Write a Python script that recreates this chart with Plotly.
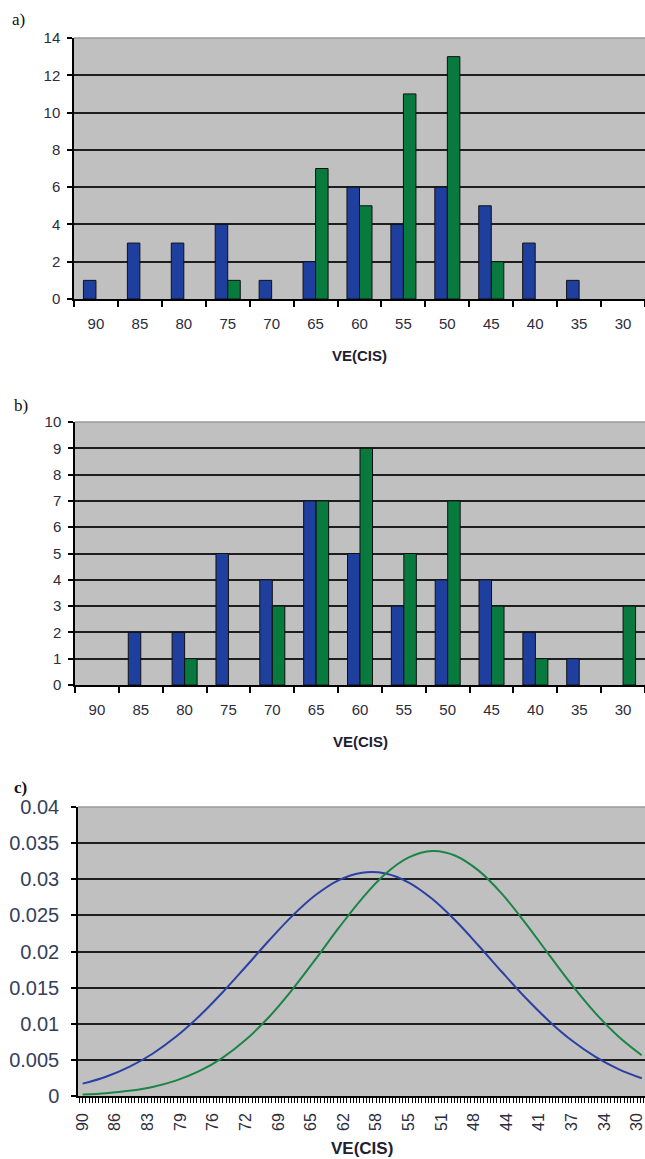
import plotly.graph_objects as go

# ---------- data ----------
categories = ["90", "85", "80", "75", "70", "65", "60", "55", "50", "45", "40", "35", "30"]

a_blue = [1, 3, 3, 4, 1, 2, 6, 4, 6, 5, 3, 1, 0]
a_green = [0, 0, 0, 1, 0, 7, 5, 11, 13, 2, 0, 0, 0]

b_blue = [0, 2, 2, 5, 4, 7, 5, 3, 4, 4, 2, 1, 0]
b_green = [0, 0, 1, 0, 3, 7, 9, 5, 7, 3, 1, 0, 3]

c_x = [90, 87.5, 85, 82.5, 80, 77.5, 75, 72.5, 70, 67.5, 65, 62.5, 60,
       57.5, 55, 52.5, 50, 47.5, 45, 42.5, 40, 37.5, 35, 32.5, 30]
c_blue = [0.00171, 0.00267, 0.00403, 0.00585, 0.00819, 0.01103, 0.01432, 0.01789,
          0.02152, 0.02493, 0.02781, 0.02988, 0.03091, 0.03079, 0.02954, 0.02729,
          0.02428, 0.02080, 0.01716, 0.01363, 0.01043, 0.00768, 0.00545, 0.00372, 0.00245]
c_green = [0.00020, 0.00039, 0.00072, 0.00126, 0.00213, 0.00343, 0.00528, 0.00778,
           0.01094, 0.01473, 0.01894, 0.02329, 0.02736, 0.03075, 0.03302, 0.03390,
           0.03326, 0.03119, 0.02797, 0.02397, 0.01964, 0.01538, 0.01151, 0.00824, 0.00563]

c_tickvals = [90, 86.5, 83, 79.5, 76, 72.5, 69, 65.5, 62, 58.5, 55, 51.5, 48, 44.5, 41, 37.5, 34, 30.5]
c_ticktext = ["90", "86", "83", "79", "76", "72", "69", "65", "62", "58", "55", "51",
              "48", "44", "41", "37", "34", "30"]

c_ytickvals = [0, 0.005, 0.01, 0.015, 0.02, 0.025, 0.03, 0.035, 0.04]
c_yticktext = ["0", "0.005", "0.01", "0.015", "0.02", "0.025", "0.03", "0.035", "0.04"]

# ---------- style ----------
W, H = 645, 1159
BLUE = "#1f3f9e"
GREEN = "#087a3e"
BG = "#c0c0c0"
GRID = "#1e1e1e"
TXT = "#2c2c3c"
FONT = "Liberation Sans, Arial, sans-serif"

def py(px):
    return 1 - px / H

def outline(vals):
    return dict(color="#101010", width=[1 if v > 0 else 0 for v in vals])

fig = go.Figure()

fig.add_trace(go.Bar(x=categories, y=a_blue, marker=dict(color=BLUE, line=outline(a_blue)),
                     xaxis="x", yaxis="y", showlegend=False))
fig.add_trace(go.Bar(x=categories, y=a_green, marker=dict(color=GREEN, line=outline(a_green)),
                     xaxis="x", yaxis="y", showlegend=False))
fig.add_trace(go.Bar(x=categories, y=b_blue, marker=dict(color=BLUE, line=outline(b_blue)),
                     xaxis="x2", yaxis="y2", showlegend=False))
fig.add_trace(go.Bar(x=categories, y=b_green, marker=dict(color=GREEN, line=outline(b_green)),
                     xaxis="x2", yaxis="y2", showlegend=False))
fig.add_trace(go.Scatter(x=c_x, y=c_blue, mode="lines", line=dict(color="#2b40a3", width=2, shape="spline"),
                         xaxis="x3", yaxis="y3", showlegend=False))
fig.add_trace(go.Scatter(x=c_x, y=c_green, mode="lines", line=dict(color="#1b8446", width=2, shape="spline"),
                         xaxis="x3", yaxis="y3", showlegend=False))

common_y = dict(showline=True, linecolor="#000000", linewidth=1.5, ticks="outside", ticklen=5,
                tickcolor="#000000", tickwidth=1.5, showgrid=True, gridcolor=GRID, gridwidth=1.5,
                zeroline=False, automargin=False)
common_xcat = dict(type="category", showline=True, linecolor="#000000", linewidth=1.5,
                   ticks="outside", ticklen=6, tickcolor="#000000", tickwidth=1.5,
                   tickson="boundaries", showgrid=False, zeroline=False, automargin=False,
                   ticklabeloverflow="allow",
                   tickfont=dict(family=FONT, size=15, color=TXT), ticklabelstandoff=10)

fig.update_layout(
    width=W, height=H,
    margin=dict(l=0, r=0, t=0, b=0, autoexpand=False),
    paper_bgcolor="white",
    plot_bgcolor=BG,
    barmode="group", bargap=0.43, bargroupgap=0,
    xaxis=dict(domain=[74 / W, 1], anchor="y", **common_xcat),
    yaxis=dict(domain=[py(299), py(38)], anchor="x", range=[0, 14], dtick=2, ticklabelstandoff=4,
               tickfont=dict(family=FONT, size=15, color=TXT), **common_y),
    xaxis2=dict(domain=[75 / W, 1], anchor="y2", **common_xcat),
    yaxis2=dict(domain=[py(685), py(422)], anchor="x2", range=[0, 10], dtick=1, ticklabelstandoff=4,
                tickfont=dict(family=FONT, size=15, color=TXT), **common_y),
    xaxis3=dict(domain=[78 / W, 1], anchor="y3", range=[90.5, 29.65], automargin=False,
                tickmode="array", tickvals=c_tickvals, ticktext=c_ticktext, tickangle=-90,
                ticklabeloverflow="allow",
                showline=True, linecolor="#000000", linewidth=1.5, ticks="outside", ticklen=5,
                tickcolor="#000000", tickwidth=1, showgrid=False, zeroline=False,
                minor=dict(tickmode="linear", tick0=90, dtick=0.35, ticks="outside", ticklen=5,
                           tickcolor="#000000", tickwidth=1, showgrid=False),
                tickfont=dict(family=FONT, size=16, color=TXT), ticklabelstandoff=4),
    yaxis3=dict(domain=[py(1096), py(807)], anchor="x3", range=[0, 0.04],
                tickmode="array", tickvals=c_ytickvals, ticktext=c_yticktext, ticklabelstandoff=8,
                tickfont=dict(family=FONT, size=20, color="#34405a"), **common_y),
)

# top border of plot areas
for xa, top in (("x", 38), ("x2", 422), ("x3", 807)):
    fig.add_shape(type="line", xref=f"{xa} domain", yref="paper", x0=0, x1=1,
                  y0=py(top), y1=py(top), line=dict(color="#9a9a9a", width=1.5))

# axis titles
for cx, ty, size in (((74 + W) / 2 / W, 356, 15), ((75 + W) / 2 / W, 741, 15), ((78 + W) / 2 / W, 1148, 17)):
    fig.add_annotation(text="<b>VE(CIS)</b>", xref="paper", yref="paper", x=cx, y=py(ty),
                       showarrow=False, font=dict(family=FONT, size=size, color="#202030"),
                       xanchor="center", yanchor="middle")

# panel letters
for lbl, lx, ly, bold in (("a)", 10, 20, False), ("b)", 12, 405, False), ("c)", 12, 787, True)):
    fig.add_annotation(text=f"<b>{lbl}</b>" if bold else lbl, xref="paper", yref="paper",
                       x=lx / W, y=py(ly), showarrow=False,
                       font=dict(family="Liberation Serif, Times New Roman, serif", size=17, color="#111111"),
                       xanchor="left", yanchor="middle")

fig.write_html("out.html", config={"displayModeBar": False},
               post_script="document.body.style.margin='0';document.body.style.overflow='hidden';")
